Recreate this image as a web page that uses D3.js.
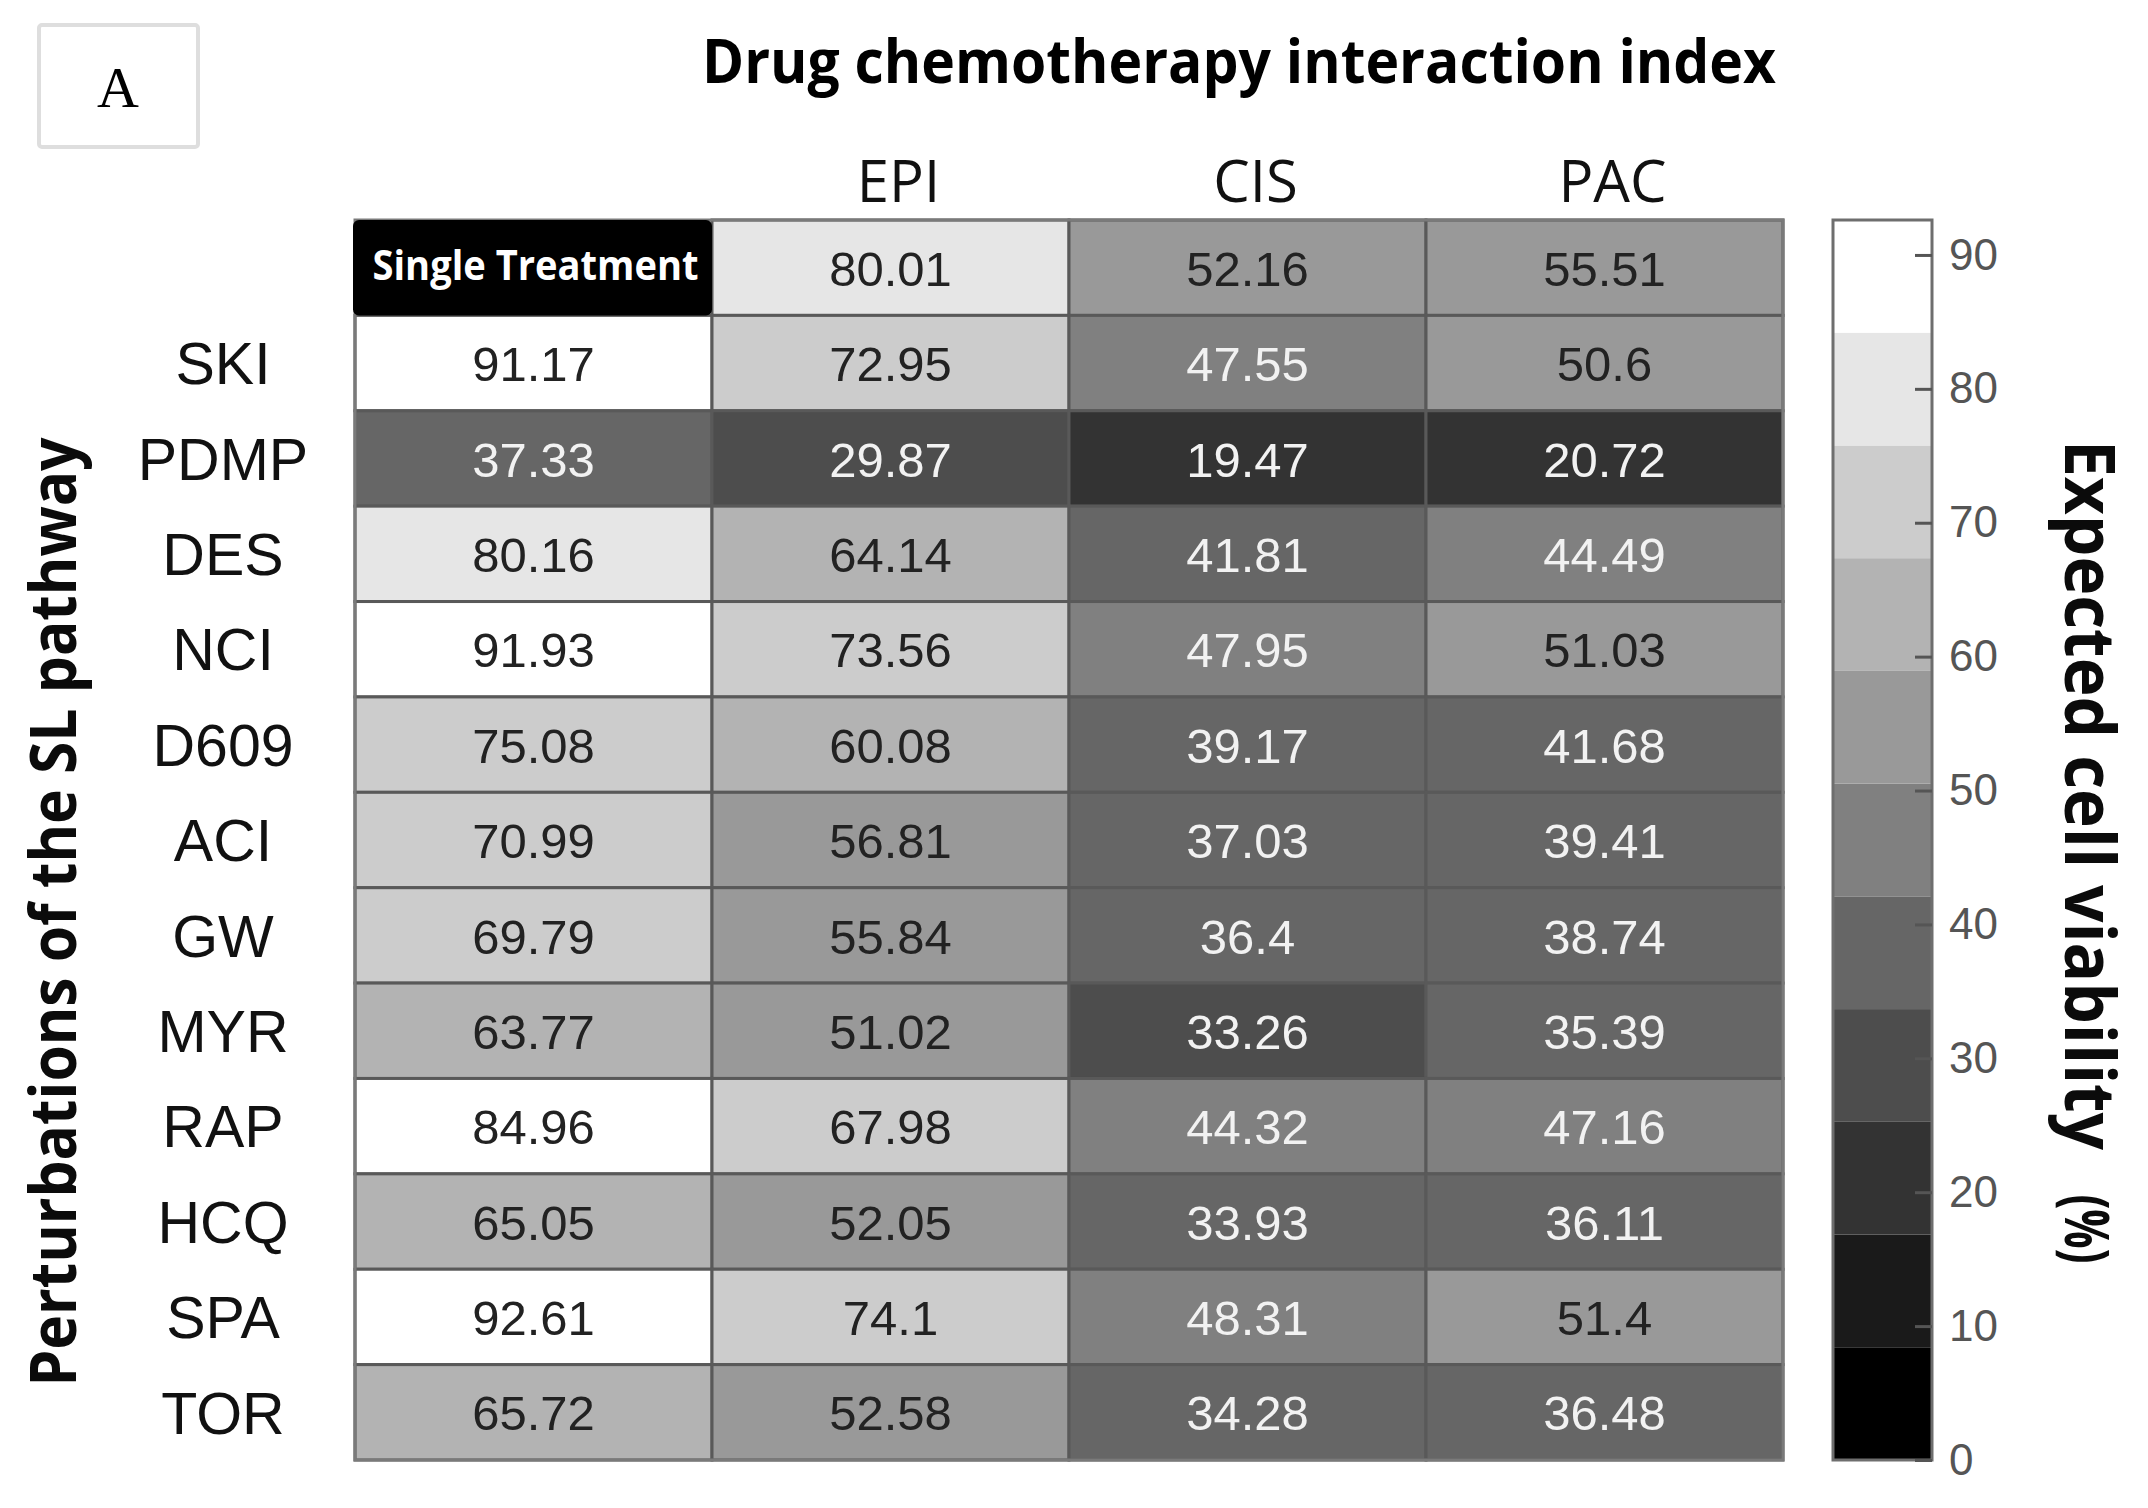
<!DOCTYPE html>
<html>
<head>
<meta charset="utf-8">
<script src="https://cdn.jsdelivr.net/npm/d3@7"></script>
<style>
  body { margin: 0; background: #fff; }
</style>
</head>
<body>
<div id="chart"></div>
<script>
const width = 2148;
const height = 1508;

// chemotherapy drugs (columns) and SL pathway perturbations (rows)
const drugs = ["EPI", "CIS", "PAC"];
const perturbations = ["SKI", "PDMP", "DES", "NCI", "D609", "ACI", "GW", "MYR", "RAP", "HCQ", "SPA", "TOR"];

// chemotherapy alone
const chemoAlone = [80.01, 52.16, 55.51];

// perturbation alone (Single Treatment column)
const singleTreatment = [91.17, 37.33, 80.16, 91.93, 75.08, 70.99, 69.79, 63.77, 84.96, 65.05, 92.61, 65.72];
const withEPI = [72.95, 29.87, 64.14, 73.56, 60.08, 56.81, 55.84, 51.02, 67.98, 52.05, 74.1, 52.58];
const withCIS = [47.55, 19.47, 41.81, 47.95, 39.17, 37.03, 36.4, 33.26, 44.32, 33.93, 48.31, 34.28];
const withPAC = [50.6, 20.72, 44.49, 51.03, 41.68, 39.41, 38.74, 35.39, 47.16, 36.11, 51.4, 36.48];

const colorTicks = [0, 10, 20, 30, 40, 50, 60, 70, 80, 90];
const colorMax = 92.61;

// build cell table
const cols = ["single", ...drugs];
const rows = ["chemo", ...perturbations];
const cells = [];
chemoAlone.forEach((v, i) => cells.push({ row: "chemo", col: drugs[i], value: v }));
perturbations.forEach((p, i) => {
  cells.push({ row: p, col: "single", value: singleTreatment[i] });
  cells.push({ row: p, col: "EPI", value: withEPI[i] });
  cells.push({ row: p, col: "CIS", value: withCIS[i] });
  cells.push({ row: p, col: "PAC", value: withPAC[i] });
});

const x = d3.scaleBand().domain(cols).range([355, 1783]);
const y = d3.scaleBand().domain(rows).range([220, 1460]);

const grays = d3.range(11).map(i => d3.rgb(i * 25.5, i * 25.5, i * 25.5).toString());
const color = d3.scaleQuantize().domain([0, colorMax]).range(grays);

const svg = d3.select("#chart")
  .append("svg")
  .attr("width", width)
  .attr("height", height)
  .attr("viewBox", [0, 0, width, height]);

// panel letter
svg.append("rect")
  .attr("x", 39).attr("y", 25)
  .attr("width", 159).attr("height", 122)
  .attr("rx", 3)
  .attr("fill", "#fff")
  .attr("stroke", "#dedede")
  .attr("stroke-width", 4);
svg.append("text")
  .attr("x", 118).attr("y", 107)
  .attr("text-anchor", "middle")
  .attr("font-family", "Liberation Serif")
  .attr("font-size", 58)
  .text("A");

// title
svg.append("text")
  .attr("x", 1239).attr("y", 83)
  .attr("text-anchor", "middle")
  .attr("font-family", "Open Sans")
  .attr("font-weight", "bold")
  .attr("font-size", 61)
  .attr("textLength", 1074)
  .attr("lengthAdjust", "spacingAndGlyphs")
  .text("Drug chemotherapy interaction index");

// column headers
svg.append("g")
  .selectAll("text")
  .data(drugs)
  .join("text")
    .attr("x", d => x(d) + x.bandwidth() / 2 + 8)
    .attr("y", 202)
    .attr("text-anchor", "middle")
    .attr("font-family", "Open Sans")
    .attr("font-size", 58)
    .attr("fill", "#111")
    .text(d => d);

// row labels
svg.append("g")
  .selectAll("text")
  .data(perturbations)
  .join("text")
    .attr("x", 223)
    .attr("y", d => y(d) + y.bandwidth() / 2)
    .attr("dy", "0.36em")
    .attr("text-anchor", "middle")
    .attr("font-family", "Liberation Sans")
    .attr("font-size", 59)
    .attr("fill", "#111")
    .text(d => d);

// heatmap cells
svg.append("g")
  .selectAll("rect")
  .data(cells)
  .join("rect")
    .attr("x", d => x(d.col))
    .attr("y", d => y(d.row))
    .attr("width", x.bandwidth())
    .attr("height", y.bandwidth())
    .attr("fill", d => color(d.value))
    .attr("stroke", "#595959")
    .attr("stroke-width", 3);

svg.append("rect")
  .attr("x", x.range()[0]).attr("y", y.range()[0])
  .attr("width", x.range()[1] - x.range()[0])
  .attr("height", y.range()[1] - y.range()[0])
  .attr("fill", "none")
  .attr("stroke", "#7a7a7a")
  .attr("stroke-width", 3);

// Single Treatment corner cell
svg.append("rect")
  .attr("x", x("single") - 2)
  .attr("y", y("chemo"))
  .attr("width", x.bandwidth() + 2)
  .attr("height", y.bandwidth())
  .attr("rx", 6)
  .attr("fill", "#000");
svg.append("text")
  .attr("x", x("single") + x.bandwidth() / 2 + 2)
  .attr("y", 280)
  .attr("text-anchor", "middle")
  .attr("font-family", "Open Sans")
  .attr("font-weight", "bold")
  .attr("font-size", 42)
  .attr("fill", "#fff")
  .attr("textLength", 326)
  .attr("lengthAdjust", "spacingAndGlyphs")
  .text("Single Treatment");

// cell values
svg.append("g")
  .selectAll("text")
  .data(cells)
  .join("text")
    .attr("x", d => x(d.col) + x.bandwidth() / 2)
    .attr("y", d => y(d.row) + y.bandwidth() / 2)
    .attr("dy", "0.37em")
    .attr("text-anchor", "middle")
    .attr("font-family", "Liberation Sans")
    .attr("font-size", 49)
    .attr("fill", d => d.value < 50 ? "#f2f2f2" : "#222")
    .text(d => d.value);

// y axis title
svg.append("text")
  .attr("transform", "translate(76, 912) rotate(-90)")
  .attr("text-anchor", "middle")
  .attr("font-family", "Open Sans")
  .attr("font-weight", "bold")
  .attr("font-size", 64)
  .attr("fill", "#0b0b0b")
  .attr("textLength", 949)
  .attr("lengthAdjust", "spacingAndGlyphs")
  .text("Perturbations of the SL pathway");

// colour bar
const cy = d3.scaleLinear().domain([0, colorMax]).range([1460, 220]);
const cbX = 1833, cbW = 99;
const bands = grays.map((g, i) => {
  const [a, b] = color.invertExtent(g);
  return { color: g, lo: a, hi: b };
});

const cb = svg.append("g");
cb.selectAll("rect")
  .data(bands)
  .join("rect")
    .attr("x", cbX)
    .attr("y", d => cy(d.hi))
    .attr("width", cbW)
    .attr("height", d => cy(d.lo) - cy(d.hi))
    .attr("fill", d => d.color);
cb.append("rect")
  .attr("x", cbX).attr("y", cy(colorMax))
  .attr("width", cbW).attr("height", cy(0) - cy(colorMax))
  .attr("fill", "none")
  .attr("stroke", "#6e6e6e")
  .attr("stroke-width", 3);

const cAxis = svg.append("g")
  .attr("transform", `translate(${cbX + cbW}, 0)`)
  .call(d3.axisRight(cy).tickValues(colorTicks).tickSize(0).tickPadding(17));
cAxis.select(".domain").remove();
cAxis.selectAll("text")
  .attr("font-family", "Liberation Sans")
  .attr("font-size", 44)
  .attr("fill", "#555");
cAxis.selectAll(".tick")
  .append("line")
    .attr("x1", -17).attr("x2", 0)
    .attr("stroke", "#555")
    .attr("stroke-width", 3);

// colour bar title
svg.append("text")
  .attr("transform", "translate(2065, 795) rotate(90)")
  .attr("text-anchor", "middle")
  .attr("font-family", "Open Sans")
  .attr("font-weight", "bold")
  .attr("font-size", 70)
  .attr("fill", "#0b0b0b")
  .attr("textLength", 710)
  .attr("lengthAdjust", "spacingAndGlyphs")
  .text("Expected cell viability");
svg.append("text")
  .attr("transform", "translate(2065, 1229) rotate(90)")
  .attr("text-anchor", "middle")
  .attr("font-family", "Open Sans")
  .attr("font-weight", "bold")
  .attr("font-size", 60)
  .attr("fill", "#0b0b0b")
  .attr("textLength", 69)
  .attr("lengthAdjust", "spacingAndGlyphs")
  .text("(%)");
</script>
</body>
</html>
